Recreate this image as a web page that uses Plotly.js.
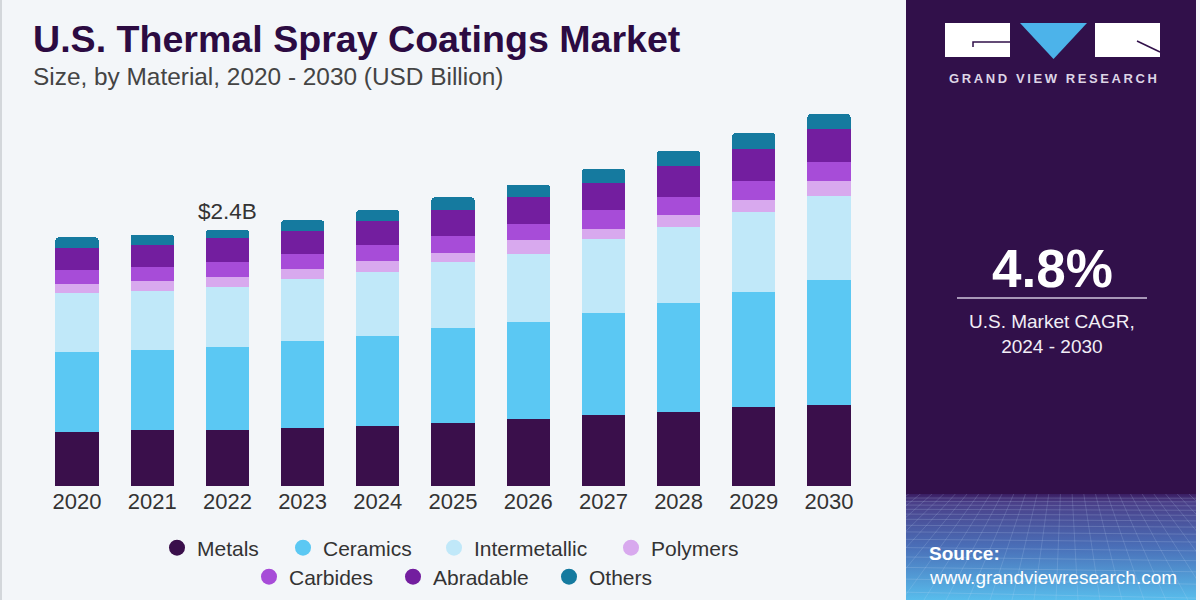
<!DOCTYPE html>
<html>
<head>
<meta charset="utf-8">
<script src="https://cdn.plot.ly/plotly-3.0.1.min.js"></script>
<style>
html,body{margin:0;padding:0;background:#f3f6f9;}
#chart{width:1200px;height:600px;}
</style>
</head>
<body>
<div id="chart"></div>
<script>
// ---------------- data ----------------
const years = ['2020','2021','2022','2023','2024','2025','2026','2027','2028','2029','2030'];
const metals        = [0.506,0.528,0.528,0.548,0.564,0.595,0.630,0.665,0.693,0.740,0.764];
const ceramics      = [0.755,0.752,0.774,0.815,0.849,0.887,0.914,0.964,1.030,1.081,1.175];
const intermetallic = [0.553,0.553,0.566,0.580,0.600,0.623,0.636,0.690,0.714,0.755,0.784];
const polymers      = [0.089,0.094,0.097,0.100,0.100,0.087,0.134,0.097,0.110,0.113,0.144];
const carbides      = [0.128,0.132,0.136,0.138,0.148,0.157,0.148,0.179,0.172,0.181,0.181];
const abradable     = [0.205,0.202,0.229,0.216,0.231,0.244,0.251,0.257,0.291,0.301,0.307];
const others        = [0.100,0.100,0.078,0.100,0.100,0.119,0.118,0.129,0.138,0.145,0.141];
const seriesNames   = ['Metals','Ceramics','Intermetallic','Polymers','Carbides','Abradable','Others'];
const seriesValues  = [metals,ceramics,intermetallic,polymers,carbides,abradable,others];
const labelYearIndex = 2;
const labelText = '$2.4B';
const cagrValue = '4.8%';
const cagrLabel = 'U.S. Market CAGR,<br>2024 - 2030';

// ---------------- styling ----------------
const colors = ['#3a0f4b','#5bc8f3','#c0e8f9','#d8a9ee','#a74cd8','#731e9f','#157a9f'];
const W = 1200, H = 600;
const px = v => v / W;
const py = v => 1 - v / H;
const FONT = 'Liberation Sans, Arial, sans-serif';

// legend positions (pixel centre of circle), row y
const legendPos = [[177,548],[303,548],[454,548],[631,548],[269,577],[413,577],[569,577]];

const traces = [];
seriesNames.forEach((n,i)=>{
  traces.push({
    type:'bar', name:n, x:years, y:seriesValues[i],
    marker:{color:colors[i], line:{width:0}},
    showlegend:false, hoverinfo:'x+y+name'
  });
});
seriesNames.forEach((n,i)=>{
  traces.push({
    type:'scatter', mode:'markers', name:n, x:[null], y:[null],
    marker:{color:colors[i], size:17, symbol:'circle'},
    legend: i===0 ? 'legend' : 'legend'+(i+1),
    showlegend:true
  });
});

const XL = 39.4, XR = 866.6;
const layout = {
  width:W, height:H,
  margin:{l:0,r:0,t:0,b:0,pad:0},
  paper_bgcolor:'#f3f6f9', plot_bgcolor:'rgba(0,0,0,0)',
  barmode:'stack', bargap:0.428, barcornerradius:3,
  font:{family:FONT, color:'#333'},
  showlegend:true,
  xaxis:{
    type:'category', domain:[px(XL), px(XR)], range:[-0.5,10.5],
    showgrid:false, zeroline:false, showline:false, ticks:'',
    tickfont:{size:22, color:'#333', family:FONT}, fixedrange:true
  },
  yaxis:{
    domain:[py(486), py(60.4)], range:[0,4], visible:false, fixedrange:true
  },
  shapes:[],
  annotations:[],
  images:[]
};

// legends
legendPos.forEach((p,i)=>{
  const key = i===0 ? 'legend' : 'legend'+(i+1);
  layout[key] = {
    orientation:'h', x:px(p[0]-20), xanchor:'left', y:py(p[1]), yanchor:'middle',
    bgcolor:'rgba(0,0,0,0)', borderwidth:0,
    font:{size:21, color:'#333', family:FONT}, itemsizing:'trace'
  };
});

// titles
layout.annotations.push({
  xref:'paper', yref:'paper', x:px(31), y:py(39), xanchor:'left', yanchor:'middle',
  text:'<b>U.S. Thermal Spray Coatings Market</b>', showarrow:false,
  font:{size:37.6, color:'#2c0b42', family:FONT}
});
layout.annotations.push({
  xref:'paper', yref:'paper', x:px(31), y:py(77), xanchor:'left', yanchor:'middle',
  text:'Size, by Material, 2020 - 2030 (USD Billion)', showarrow:false,
  font:{size:24.4, color:'#444', family:FONT}
});
// total label above 2022 bar
const slot = (XR - XL) / years.length;
layout.annotations.push({
  xref:'paper', yref:'paper', x:px(XL + slot*(labelYearIndex+0.5)), y:py(212), xanchor:'center', yanchor:'middle',
  text:labelText, showarrow:false, font:{size:22.5, color:'#333', family:FONT}
});

// right panel
const P0 = 906, P1 = 1196;
layout.shapes.push({type:'rect', xref:'paper', yref:'paper', x0:px(P0), x1:px(P1), y0:0, y1:1,
  fillcolor:'#31104a', line:{width:0}, layer:'below'});
layout.shapes.push({type:'line', xref:'paper', yref:'paper', x0:px(1), x1:px(1), y0:0, y1:1,
  line:{color:'#d3d7db', width:2}, layer:'below'});

// bottom grid decoration as svg image
(function(){
  const w = P1-P0, h = 106;
  let s = `<svg xmlns="http://www.w3.org/2000/svg" width="${w}" height="${h}" viewBox="0 0 ${w} ${h}" preserveAspectRatio="none">`;
  s += `<defs><linearGradient id="g" x1="0" y1="0" x2="0" y2="1">`+
       `<stop offset="0" stop-color="#3a1d62"/><stop offset="0.08" stop-color="#4a3f88"/>`+
       `<stop offset="0.5" stop-color="#4a6fb8"/><stop offset="1" stop-color="#58bdec"/></linearGradient></defs>`;
  s += `<rect x="0" y="0" width="${w}" height="${h}" fill="url(#g)"/>`;
  let yy = 4, step = 3;
  while (yy < h) { s += `<line x1="0" y1="${yy.toFixed(1)}" x2="${w}" y2="${(yy + yy*0.06).toFixed(1)}" stroke="#c6dcf7" stroke-opacity="0.25" stroke-width="0.8"/>`; step *= 1.12; yy += step; }
  const vx = w*0.55, vy = -120;
  for (let bx = -400; bx <= w+400; bx += 22) {
    s += `<line x1="${vx}" y1="${vy}" x2="${bx}" y2="${h}" stroke="#c6dcf7" stroke-opacity="0.22" stroke-width="0.8"/>`;
  }
  s += `</svg>`;
  layout.images.push({
    source:'data:image/svg+xml;charset=utf-8,'+encodeURIComponent(s),
    xref:'paper', yref:'paper', x:px(P0), y:py(494), sizex:w/W, sizey:h/H,
    xanchor:'left', yanchor:'top', sizing:'stretch', layer:'above'
  });
})();

// logo
layout.shapes.push({type:'rect', xref:'paper', yref:'paper', x0:px(945), x1:px(1010), y0:py(57), y1:py(23),
  fillcolor:'#ffffff', line:{width:0}});
layout.shapes.push({type:'rect', xref:'paper', yref:'paper', x0:px(1095), x1:px(1160), y0:py(57), y1:py(23),
  fillcolor:'#ffffff', line:{width:0}});
layout.shapes.push({type:'path', xref:'paper', yref:'paper',
  path:`M ${px(1020)} ${py(23)} L ${px(1087)} ${py(23)} L ${px(1053.5)} ${py(59)} Z`,
  fillcolor:'#4cb3ea', line:{width:0}});
layout.shapes.push({type:'path', xref:'paper', yref:'paper',
  path:`M ${px(973)} ${py(47)} L ${px(973)} ${py(42)} L ${px(1010)} ${py(42)}`,
  line:{color:'#31104a', width:1.5}});
layout.shapes.push({type:'line', xref:'paper', yref:'paper', x0:px(1137), y0:py(41), x1:px(1160), y1:py(52),
  line:{color:'#31104a', width:1.5}});
layout.annotations.push({
  xref:'paper', yref:'paper', x:px(1052.5), y:py(78), xanchor:'center', yanchor:'middle',
  text:'<b>'+'GRAND VIEW RESEARCH'.split('').join('\u2009')+'</b>', showarrow:false,
  font:{size:13, color:'#ddd5e6', family:FONT}
});

// CAGR
layout.annotations.push({
  xref:'paper', yref:'paper', x:px(1052), y:py(268), xanchor:'center', yanchor:'middle',
  text:'<b>'+cagrValue+'</b>', showarrow:false, font:{size:53, color:'#ffffff', family:FONT}
});
layout.shapes.push({type:'line', xref:'paper', yref:'paper', x0:px(957), x1:px(1147), y0:py(298), y1:py(298),
  line:{color:'#cfc4dc', width:1.5}});
layout.annotations.push({
  xref:'paper', yref:'paper', x:px(1052), y:py(334), xanchor:'center', yanchor:'middle',
  text:cagrLabel, showarrow:false, align:'center', font:{size:19, color:'#f2eef6', family:FONT}
});

// source
layout.annotations.push({
  xref:'paper', yref:'paper', x:px(927), y:py(553), xanchor:'left', yanchor:'middle',
  text:'<b>Source:</b>', showarrow:false, font:{size:19, color:'#ffffff', family:FONT}
});
layout.annotations.push({
  xref:'paper', yref:'paper', x:px(927), y:py(577), xanchor:'left', yanchor:'middle',
  text:'www.grandviewresearch.com', showarrow:false, font:{size:19, color:'#ffffff', family:FONT}
});

Plotly.newPlot('chart', traces, layout, {displayModeBar:false, staticPlot:true});
</script>
</body>
</html>
